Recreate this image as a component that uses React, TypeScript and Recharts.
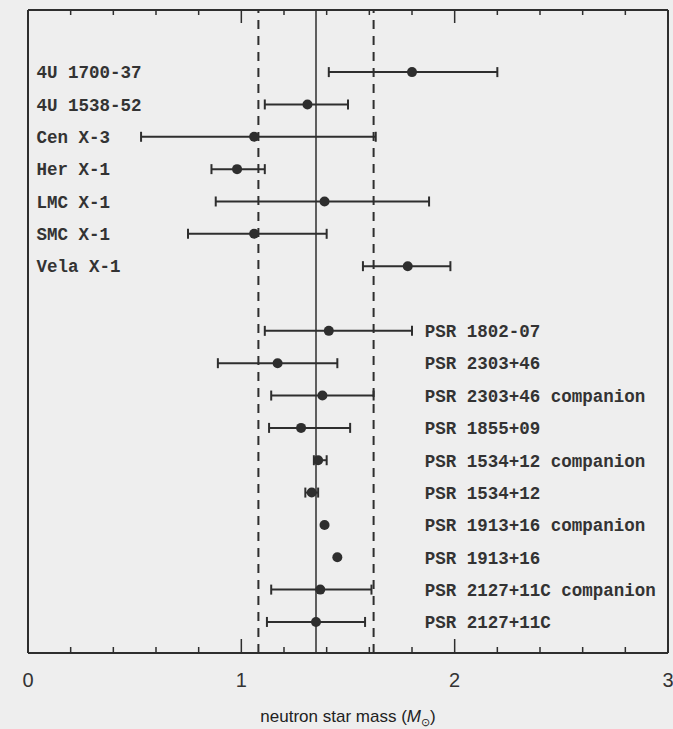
import { ScatterChart, Scatter, XAxis, YAxis, ErrorBar, ReferenceLine, Label } from "recharts";

// X-ray binaries (mass in solar masses, range)
const xrayNames = ["4U 1700-37", "4U 1538-52", "Cen X-3", "Her X-1", "LMC X-1", "SMC X-1", "Vela X-1"];
const xrayMass = [1.8, 1.31, 1.06, 0.98, 1.39, 1.06, 1.78];
const xrayLow = [1.41, 1.11, 0.53, 0.86, 0.88, 0.75, 1.57];
const xrayHigh = [2.2, 1.5, 1.63, 1.11, 1.88, 1.4, 1.98];

// radio pulsars
const psrNames = [
  "PSR 1802-07",
  "PSR 2303+46",
  "PSR 2303+46 companion",
  "PSR 1855+09",
  "PSR 1534+12 companion",
  "PSR 1534+12",
  "PSR 1913+16 companion",
  "PSR 1913+16",
  "PSR 2127+11C companion",
  "PSR 2127+11C",
];
const psrMass = [1.41, 1.17, 1.38, 1.28, 1.36, 1.33, 1.39, 1.45, 1.37, 1.35];
const psrLow = [1.11, 0.89, 1.14, 1.13, 1.34, 1.3, null, null, 1.14, 1.12];
const psrHigh = [1.8, 1.45, 1.62, 1.51, 1.4, 1.36, null, null, 1.61, 1.58];

const meanMass = 1.35;
const bandMass = [1.08, 1.62];

const massTicks = [0, 0.2, 0.4, 0.6, 0.8, 1, 1.2, 1.4, 1.6, 1.8, 2, 2.2, 2.4, 2.6, 2.8, 3];
const labelledTicks = [0, 1, 2, 3];

// where the name columns start, in mass units
const xrayLabelAt = 0.04;
const psrLabelAt = 1.86;

const rowDomain = [-1.92, 17.96];
const ink = "#2e2e2e";

type Star = { x: number; y: number; name: string; err?: [number, number] };

const stars: Star[] = [
  ...xrayNames.map((name, i) => ({
    name,
    x: xrayMass[i],
    y: i,
    err: [xrayMass[i] - xrayLow[i], xrayHigh[i] - xrayMass[i]] as [number, number],
  })),
  ...psrNames.map((name, i) => ({
    name,
    x: psrMass[i],
    y: xrayNames.length + 1 + i,
    err:
      psrLow[i] == null
        ? undefined
        : ([psrMass[i] - (psrLow[i] as number), (psrHigh[i] as number) - psrMass[i]] as [number, number]),
  })),
];

const withErr = stars.filter((s) => s.err);
const noErr = stars.filter((s) => !s.err);
const labels = stars.map((s, i) => ({
  name: s.name,
  y: s.y,
  x: i < xrayNames.length ? xrayLabelAt : psrLabelAt,
}));

const Dot = (p: any) => <circle cx={p.cx} cy={p.cy} r={5} fill={ink} />;

const NameText = (p: any) => (
  <text
    x={p.cx}
    y={p.cy}
    dy="0.36em"
    fontFamily="'Liberation Mono', monospace"
    fontWeight="bold"
    fontSize={17.5}
    fill="#333"
  >
    {p.payload.name}
  </text>
);

const BottomTick = (p: any) => {
  const v = p.payload.value;
  const major = labelledTicks.includes(v);
  return (
    <g>
      <line x1={p.x} x2={p.x} y1={p.y} y2={p.y - (major ? 14 : 6)} stroke={ink} strokeWidth={1.5} />
      {major && (
        <text x={p.x} y={p.y + 34} textAnchor="middle" fontSize={20} fill="#333" fontFamily="'Liberation Sans', sans-serif">
          {v}
        </text>
      )}
    </g>
  );
};

const TopTick = (p: any) => {
  const v = p.payload.value;
  const major = labelledTicks.includes(v);
  return <line x1={p.x} x2={p.x} y1={p.y} y2={p.y + (major ? 13 : 5)} stroke={ink} strokeWidth={1.5} />;
};

const AxisTitle = (p: any) => {
  const vb = p.viewBox;
  return (
    <text
      x={vb.x + vb.width / 2}
      y={vb.y + 69}
      textAnchor="middle"
      fontSize={17}
      fill="#222"
      fontFamily="'Liberation Sans', sans-serif"
    >
      neutron star mass (<tspan fontStyle="italic">M</tspan>
      <tspan fontSize={11} dy={4}>⊙</tspan>
      <tspan dy={-4}>)</tspan>
    </text>
  );
};

export default function App() {
  return (
    <div style={{ position: "fixed", left: 0, top: 0, width: 673, height: 729, background: "#eeeeee" }}>
      <ScatterChart width={673} height={729} margin={{ top: 9, right: 4, bottom: 0, left: 27 }}>
        <XAxis
          type="number"
          dataKey="x"
          domain={[0, 3]}
          ticks={massTicks}
          interval={0}
          allowDataOverflow
          height={76}
          tickLine={false}
          tickSize={0}
          tickMargin={0}
          tick={BottomTick}
          axisLine={{ stroke: ink, strokeWidth: 2 }}
        >
          <Label content={AxisTitle} />
        </XAxis>
        <XAxis
          xAxisId="top"
          orientation="top"
          type="number"
          dataKey="x"
          domain={[0, 3]}
          ticks={massTicks}
          interval={0}
          allowDataOverflow
          height={1}
          tickLine={false}
          tickSize={0}
          tickMargin={0}
          tick={TopTick}
          axisLine={{ stroke: ink, strokeWidth: 2 }}
        />
        <YAxis
          type="number"
          dataKey="y"
          domain={rowDomain}
          reversed
          allowDataOverflow
          width={1}
          tick={false}
          tickLine={false}
          axisLine={{ stroke: ink, strokeWidth: 2 }}
        />
        <YAxis
          yAxisId="right"
          orientation="right"
          type="number"
          dataKey="y"
          domain={rowDomain}
          reversed
          allowDataOverflow
          width={1}
          tick={false}
          tickLine={false}
          axisLine={{ stroke: ink, strokeWidth: 2 }}
        />
        <ReferenceLine x={meanMass} stroke={ink} strokeWidth={1.5} />
        {bandMass.map((m) => (
          <ReferenceLine key={m} x={m} stroke={ink} strokeWidth={2} strokeDasharray="9 7" />
        ))}
        <Scatter data={withErr} shape={Dot} isAnimationActive={false}>
          <ErrorBar dataKey="err" direction="x" width={5} stroke={ink} strokeWidth={2} />
        </Scatter>
        <Scatter data={noErr} shape={Dot} isAnimationActive={false} />
        <Scatter data={labels} shape={NameText} isAnimationActive={false} />
      </ScatterChart>
    </div>
  );
}
